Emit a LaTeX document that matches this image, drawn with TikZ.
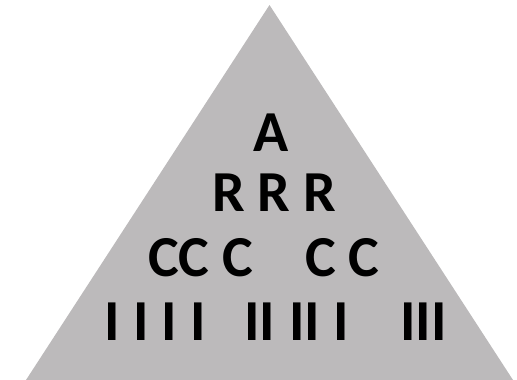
\documentclass[tikz,border=0pt]{standalone}
\usepackage{fontspec}
\setmainfont{Carlito}
\usepackage{tikz}
\usetikzlibrary{positioning}
\definecolor{pyramid}{HTML}{BCBABB}

\begin{document}
\begin{tikzpicture}[
    x=1pt, y=-1pt,
    every node/.style={font=\fontsize{58}{60}\selectfont\bfseries, inner sep=0pt, anchor=base},
    tri/.style={fill=pyramid, draw=none}
]
\useasboundingbox (0,0) rectangle (517,380);

% Pyramid
\coordinate (apex) at (269.5,5);
\coordinate (bl)   at (26,380);
\coordinate (br)   at (513,380);
\fill[tri] (apex) -- (bl) -- (br) -- cycle;

% Levels
\node (a) at (271.5,151) {A};
\foreach \x [count=\n] in {228.5,273.5,319.5}
    \node (r\n) at (\x,211) {R};
\foreach \x [count=\n] in {164,194,237.5,321,364}
    \node (c\n) at (\x,276) {C};
\foreach \x [count=\n] in {112.5,141.5,169.5,198.5,252.5,267.5,297.5,312.5,341,408.5,423,439}
    \node (i\n) at (\x,340) {I};
\end{tikzpicture}
\end{document}
